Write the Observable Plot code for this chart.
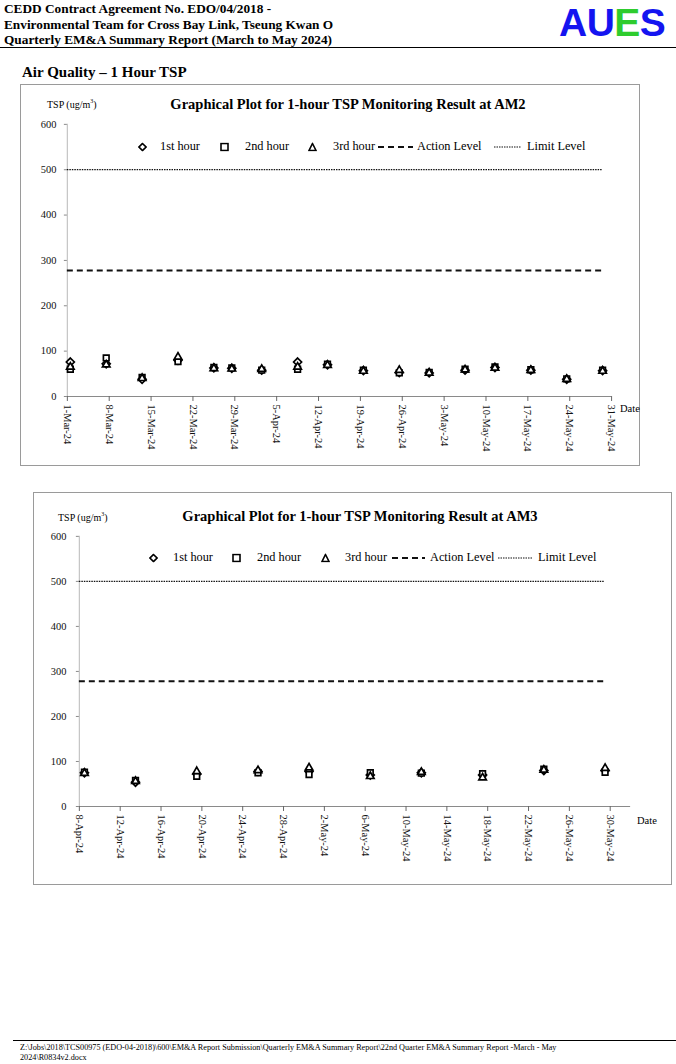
<!DOCTYPE html>
<html><head><meta charset="utf-8">
<script src="https://cdn.jsdelivr.net/npm/d3@7"></script>
<script src="https://cdn.jsdelivr.net/npm/@observablehq/plot@0.6"></script>
<style>
body{margin:0;background:#fff;font-family:"Liberation Serif","Times New Roman",serif;color:#000}
#page{position:relative;width:676px;height:1064px;overflow:hidden;background:#fff}
.abs{position:absolute;white-space:nowrap}
.hdr{left:4px;top:1px;font-weight:bold;font-size:13.3px;line-height:15.5px}
.logo{left:559px;top:1px;font-family:"Liberation Sans",Arial,sans-serif;font-weight:bold;font-size:39px;letter-spacing:-0.5px;color:#1414f0;line-height:44px}
.rule{left:0;width:676px;height:0;border-top:1.5px solid #000}
.sec{left:22px;top:64px;font-weight:bold;font-size:15px}
.box{border:1px solid #9a9a9a;box-sizing:border-box}
.box svg{position:absolute;left:-1px;top:-1px}
.ctitle{font-weight:bold;font-size:14.5px;transform:translate(-50%,-50%)}
.unit{font-size:10px;transform:translateY(-50%)}
.leg{font-size:12.3px;transform:translateY(-50%)}
.date{font-size:10.5px;transform:translateY(-50%)}
.foot{left:20px;font-size:8.2px;line-height:10px}
</style></head>
<body><div id="page"></div>
<script>
// ---------- data ----------
const yTicks = [0, 100, 200, 300, 400, 500, 600];
const seriesNames = ["1st hour", "2nd hour", "3rd hour"];

// AM2
const am2Dates = ["2024-03-01","2024-03-07","2024-03-13","2024-03-19","2024-03-25","2024-03-28","2024-04-02","2024-04-08","2024-04-13","2024-04-19","2024-04-25","2024-04-30","2024-05-06","2024-05-11","2024-05-17","2024-05-23","2024-05-29"];
const am2First  = [76, 72, 38, 80, 63, 62, 58, 76, 70, 57, 53, 52, 58, 64, 58, 38, 57];
const am2Second = [60, 85, 42, 77, 64, 63, 58, 60, 71, 58, 52, 53, 60, 65, 59, 39, 58];
const am2Third  = [65, 70, 40, 87, 62, 61, 60, 65, 69, 56, 58, 52, 59, 63, 58, 38, 56];
const am2Action = 278, am2Limit = 500;
const am2Domain = ["2024-03-01", "2024-05-31"];
const am2Ticks = ["2024-03-01","2024-03-08","2024-03-15","2024-03-22","2024-03-29","2024-04-05","2024-04-12","2024-04-19","2024-04-26","2024-05-03","2024-05-10","2024-05-17","2024-05-24","2024-05-31"];

// AM3
const am3Dates = ["2024-04-08","2024-04-13","2024-04-19","2024-04-25","2024-04-30","2024-05-06","2024-05-11","2024-05-17","2024-05-23","2024-05-29"];
const am3First  = [75, 54, 72, 78, 78, 70, 75, 70, 80, 80];
const am3Second = [76, 58, 67, 75, 71, 75, 74, 73, 83, 76];
const am3Third  = [74, 56, 78, 80, 86, 67, 76, 64, 81, 85];
const am3Action = 278, am3Limit = 500;
const am3Domain = ["2024-04-08", "2024-06-01"];
const am3Ticks = ["2024-04-08","2024-04-12","2024-04-16","2024-04-20","2024-04-24","2024-04-28","2024-05-02","2024-05-06","2024-05-10","2024-05-14","2024-05-18","2024-05-22","2024-05-26","2024-05-30"];

// ---------- helpers ----------
const parse = d3.utcParse("%Y-%m-%d");
const fmt = d3.utcFormat("%-d-%b-%y");
const page = document.getElementById("page");
function el(cls, html, style) {
  const d = document.createElement("div");
  d.className = "abs " + cls;
  d.innerHTML = html;
  Object.assign(d.style, style || {});
  page.appendChild(d);
  return d;
}

// header
el("hdr", "CEDD Contract Agreement No. EDO/04/2018 -<br>Environmental Team for Cross Bay Link, Tseung Kwan O<br>Quarterly EM&amp;A Summary Report (March to May 2024)");
el("logo", 'AU<span style="color:#2ecc2e">E</span>S');
el("rule", "", {top: "47px"});
el("sec", "Air Quality – 1 Hour TSP");

function legend(pos) {
  const y = pos.y;
  const sym = {
    d: '<svg width="9" height="9"><path d="M4.5,1 L8,4.5 L4.5,8 L1,4.5Z" fill="#fff" stroke="#000" stroke-width="1.6"/></svg>',
    s: '<svg width="9" height="9"><rect x="1" y="1" width="7" height="7" fill="#fff" stroke="#000" stroke-width="1.6"/></svg>',
    t: '<svg width="9" height="9"><path d="M4.5,1 L8,8 L1,8Z" fill="#fff" stroke="#000" stroke-width="1.6"/></svg>'
  };
  const icons = [sym.d, sym.s, sym.t];
  seriesNames.forEach((n, i) => {
    el("leg", icons[i], {left: (pos.sym[i] - 4.5) + "px", top: (y + 1) + "px", lineHeight: "0"});
    el("leg", n, {left: pos.txt[i] + "px", top: y + "px"});
  });
  el("leg", `<svg width="${pos.dash[1]-pos.dash[0]}" height="4"><line x1="0" x2="${pos.dash[1]-pos.dash[0]}" y1="2" y2="2" stroke="#111" stroke-width="2" stroke-dasharray="6,4"/></svg>`, {left: pos.dash[0] + "px", top: (y + 1) + "px", lineHeight: "0"});
  el("leg", "Action Level", {left: pos.txt[3] + "px", top: y + "px"});
  el("leg", `<svg width="${pos.dot[1]-pos.dot[0]}" height="4"><line x1="0" x2="${pos.dot[1]-pos.dot[0]}" y1="2" y2="2" stroke="#111" stroke-width="1.2" stroke-dasharray="1.5,1"/></svg>`, {left: pos.dot[0] + "px", top: (y + 1) + "px", lineHeight: "0"});
  el("leg", "Limit Level", {left: pos.txt[4] + "px", top: y + "px"});
}

function chart(cfg) {
  const rows = [];
  [cfg.first, cfg.second, cfg.third].forEach((vals, s) =>
    cfg.dates.forEach((d, i) => rows.push({date: parse(d), series: seriesNames[s], value: vals[i]})));
  const dom = cfg.domain.map(parse);
  const lastDate = d3.utcHour.offset(parse(cfg.dates[cfg.dates.length - 1]), 12);
  const box = el("box", "", {left: cfg.box[0] + "px", top: cfg.box[1] + "px", width: cfg.box[2] + "px", height: cfg.box[3] + "px"});
  const svg = Plot.plot({
    width: cfg.box[2], height: cfg.box[3],
    marginLeft: cfg.m[0], marginTop: cfg.m[1], marginRight: cfg.m[2], marginBottom: cfg.m[3],
    style: {fontFamily: "Liberation Serif, Times New Roman, serif", fontSize: "10.5px", background: "transparent", overflow: "visible"},
    x: {type: "utc", domain: dom},
    y: {domain: [0, 600]},
    symbol: {domain: seriesNames, range: ["diamond2", "square2", "triangle2"]},
    marks: [
      Plot.ruleX([dom[0]], {stroke: "#c4c4c4", strokeWidth: 1.2}),
      Plot.ruleY([0], {stroke: "#8a8a8a", strokeWidth: 1.2}),
      Plot.axisY(yTicks, {tickSize: 3, tickPadding: cfg.yPad, stroke: "#8a8a8a", fill: "#111", label: null}),
      Plot.axisX(cfg.ticks.map(parse), {tickSize: 5, tickPadding: 3, tickRotate: 90, tickFormat: fmt, stroke: "#666", fill: "#111", label: null}),
      Plot.ruleY([cfg.limit], {x1: dom[0], x2: lastDate, stroke: "#111", strokeWidth: 1.3, strokeDasharray: "1.5,1"}),
      Plot.ruleY([cfg.action], {x1: dom[0], x2: lastDate, stroke: "#111", strokeWidth: 2, strokeDasharray: "6,4"}),
      Plot.dot(rows, {x: d => d3.utcHour.offset(d.date, 12), y: "value", symbol: "series", r: 3.6, stroke: "#000", fill: "#fff", strokeWidth: 1.7})
    ]
  });
  box.appendChild(svg);
  el("ctitle", cfg.title, {left: cfg.titlePos[0] + "px", top: cfg.titlePos[1] + "px"});
  el("unit", "TSP (ug/m<sup style='font-size:6px'>3</sup>)", {left: cfg.unitPos[0] + "px", top: cfg.unitPos[1] + "px"});
  el("date", "Date", {left: cfg.datePos[0] + "px", top: cfg.datePos[1] + "px"});
  legend(cfg.legend);
}

chart({
  dates: am2Dates, first: am2First, second: am2Second, third: am2Third,
  action: am2Action, limit: am2Limit, domain: am2Domain, ticks: am2Ticks,
  box: [20, 84, 620, 382], m: [47, 40, 27, 69], yPad: 8,
  title: "Graphical Plot for 1-hour TSP Monitoring Result at AM2",
  titlePos: [348, 104], unitPos: [47, 104], datePos: [620, 408],
  legend: {y: 146, sym: [142, 224, 312], txt: [160, 245, 333, 417, 527], dash: [378, 413], dot: [494, 521]}
});

chart({
  dates: am3Dates, first: am3First, second: am3Second, third: am3Third,
  action: am3Action, limit: am3Limit, domain: am3Domain, ticks: am3Ticks,
  box: [33, 492, 639, 393], m: [46, 44, 40, 78], yPad: 10,
  title: "Graphical Plot for 1-hour TSP Monitoring Result at AM3",
  titlePos: [360, 516], unitPos: [58, 517], datePos: [637, 820],
  legend: {y: 557, sym: [153, 236, 325], txt: [173, 257, 345, 430, 538], dash: [392, 425], dot: [498, 532]}
});

// footer
el("rule", "", {top: "1040px", left: "13px", width: "663px", borderTopWidth: "1px"});
el("foot", "Z:\\Jobs\\2018\\TCS00975 (EDO-04-2018)\\600\\EM&amp;A Report Submission\\Quarterly EM&amp;A Summary Report\\22nd Quarter EM&amp;A Summary Report -March - May<br>2024\\R0834v2.docx", {top: "1043px"});
</script>
</body></html>
